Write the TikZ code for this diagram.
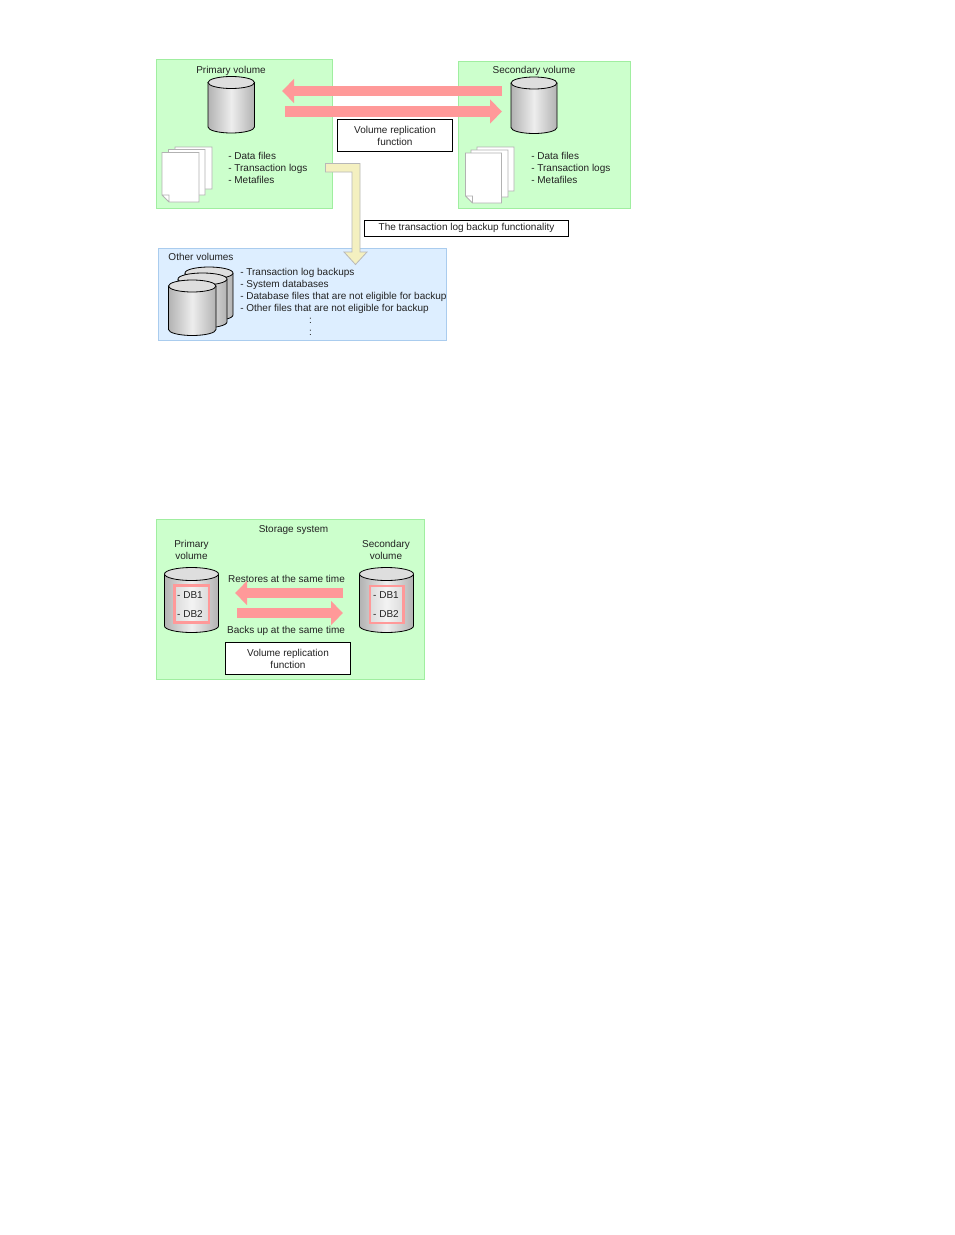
\documentclass[tikz,border=0pt]{standalone}
\usepackage{fontspec}
\setmainfont{Liberation Sans}
\usetikzlibrary{arrows.meta}
\definecolor{grnfill}{HTML}{CCFFCC}
\definecolor{grnline}{HTML}{A0EEA0}
\definecolor{blufill}{HTML}{DDEEFF}
\definecolor{bluline}{HTML}{AACCEE}
\definecolor{pink}{HTML}{FF9999}
\definecolor{yel}{HTML}{F4F0C0}
\definecolor{txt}{HTML}{222222}
\tikzset{
 x=0.75pt,y=-0.75pt,
 every node/.style={font=\fontsize{7.5}{9}\selectfont,text=txt,inner sep=0pt,align=left},
 greenbox/.style={draw=grnline,fill=grnfill,line width=0.7pt},
 bluebox/.style={draw=bluline,fill=blufill,line width=0.7pt},
 funcbox/.style={draw=black,fill=white,line width=0.7pt},
 sheet/.style={draw=black!30,fill=white,line width=0.6pt},
 bigarrow/.style={draw=pink,line width=8pt,-{Triangle[length=9pt,width=17.5pt]}},
 pinkrect/.style={draw=pink,line width=1.6pt,fill=white,fill opacity=0.35},
}
% left right top bottom ry
\newcommand{\cyl}[5]{%
 \pgfmathsetmacro{\cmx}{(#1+#2)/2}\pgfmathsetmacro{\crx}{(#2-#1)/2}%
 \pgfmathsetmacro{\cty}{#3+#5}\pgfmathsetmacro{\cby}{#4-#5}%
 \path[left color=black!30,right color=black!30,middle color=black!7]
   (#1,\cty) -- (#1,\cby) arc[start angle=180,end angle=360,x radius=\crx,y radius=-#5] -- (#2,\cty) -- cycle;
 \draw[line width=0.6pt,black] (#1,\cty) -- (#1,\cby) arc[start angle=180,end angle=360,x radius=\crx,y radius=-#5] -- (#2,\cty);
 \draw[line width=0.6pt,black,fill=black!13] (\cmx,\cty) ellipse[x radius=\crx,y radius=#5];
}
% sheet: left right top bottom
\newcommand{\sht}[4]{\draw[sheet] (#1,#3) -- (#2,#3) -- (#2,#4) -- (#1+8,#4) -- (#1,#4-8) -- cycle;}
\newcommand{\shtear}[4]{\draw[sheet] (#1,#3) -- (#2,#3) -- (#2,#4) -- (#1+7,#4) -- (#1,#4-7) -- cycle
  (#1,#4-7) -- (#1+7,#4-7) -- (#1+7,#4);}
\begin{document}
\begin{tikzpicture}
\useasboundingbox (0,0) rectangle (954,1235);
\fill[white] (0,0) rectangle (954,1235);
% top diagram panels
\draw[greenbox] (156.5,59.5) rectangle (332.5,208.5);
\draw[greenbox] (458.5,61.5) rectangle (630.5,208.5);
\draw[bluebox] (158.5,248.5) rectangle (446.5,340.5);
\node (ptitle) at (231,71) {Primary volume};
\node (stitle) at (534,70.5) {Secondary volume};
\cyl{208}{254.5}{76.5}{133}{6}
\cyl{511}{557}{77}{133.5}{6}
% sheets
\sht{175}{212}{147}{189}\sht{168.5}{205}{149.5}{195}\shtear{162}{199}{152.5}{202}
\sht{477}{514}{147}{191}\sht{471}{508}{150}{197}\shtear{465.5}{501.5}{153}{203}
\node[anchor=west] (plist) at (228,167.5) {- Data files\\- Transaction logs\\- Metafiles};
\node[anchor=west] (slist) at (531,167.5) {- Data files\\- Transaction logs\\- Metafiles};
% replication arrows
\coordinate (a1s) at (502,91); \coordinate (a1e) at (282,91);
\coordinate (a2s) at (285,111.5); \coordinate (a2e) at (502,111.5);
\draw[bigarrow] (a1s) -- (a1e);
\draw[bigarrow] (a2s) -- (a2e);
\node[funcbox,minimum width=86.25pt,minimum height=24pt,align=center] (vrf1) at (395,135.5) {Volume replication\\function};
% yellow arrow
\draw[fill=yel,draw=black!28,line width=0.6pt] (325.5,163.5) -- (360,163.5) -- (360,252) -- (367,252) -- (355.5,264.5) -- (344,252) -- (352,252) -- (352,172) -- (325.5,172) -- cycle;
\node[funcbox,minimum width=153.5pt,minimum height=12pt,align=center] (tlb) at (466.5,228) {The transaction log backup functionality};
% other volumes
\node (otitle) at (201,256.5) {Other volumes};
\cyl{185}{233}{267}{321}{6}
\cyl{178}{227}{273}{328}{6}
\cyl{168.5}{216}{280}{335.5}{6}
\node[anchor=west] (l1) at (240,272.5) {- Transaction log backups};
\node[anchor=west] (l2) at (240,285) {- System databases};
\node[anchor=west] (l3) at (240,297) {- Database files that are not eligible for backup};
\node[anchor=west] (l4) at (240,309) {- Other files that are not eligible for backup};
\node (d1) at (310.5,321) {:};
\node (d2) at (310.5,333) {:};
% bottom diagram
\draw[greenbox] (156.5,519.5) rectangle (424.5,679.5);
\node (sys) at (293.5,530.5) {Storage system};
\node[align=center] (pv) at (191.5,549.5) {Primary\\volume};
\node[align=center] (sv) at (386,549.5) {Secondary\\volume};
\cyl{164.5}{218.5}{567.5}{632.5}{6.5}
\cyl{359.5}{413.5}{567.5}{632.5}{6.5}
\draw[pinkrect] (174.5,585.5) rectangle (209,622.5);
\draw[pinkrect] (370,586) rectangle (403.5,623);
\node (a1) at (190,595) {- DB1};
\node (a2) at (190,614) {- DB2};
\node (b1) at (386,595) {- DB1};
\node (b2) at (386,614) {- DB2};
\node (rest) at (286.5,578.5) {Restores at the same time};
\node (back) at (286,630.5) {Backs up at the same time};
\coordinate (b1s) at (343,593); \coordinate (b1e) at (235,593);
\coordinate (b2s) at (237,613); \coordinate (b2e) at (343,613);
\draw[bigarrow] (b1s) -- (b1e);
\draw[bigarrow] (b2s) -- (b2e);
\node[funcbox,minimum width=93.75pt,minimum height=24pt,align=center] (vrf2) at (288,658.5) {Volume replication\\function};
\end{tikzpicture}
\end{document}
